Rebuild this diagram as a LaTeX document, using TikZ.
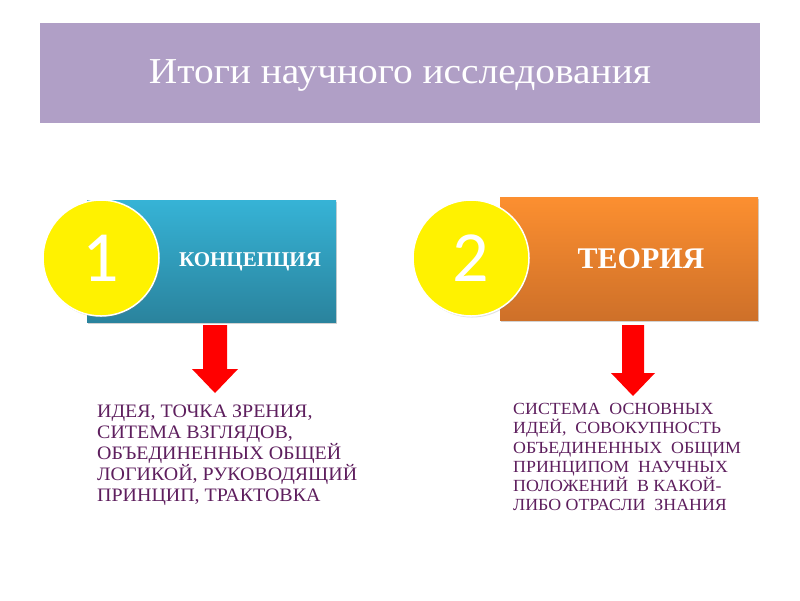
\documentclass[tikz,border=0pt]{standalone}
\usepackage{fontspec}
\setmainfont{Liberation Serif}
\newfontfamily\widefont[FakeStretch=1.05]{Liberation Serif}
\newfontfamily\titlefont[FakeStretch=1.08]{Liberation Serif}
\newfontfamily\numfont{Carlito}
\usetikzlibrary{shadows}
\definecolor{banner}{HTML}{B09FC6}
\definecolor{tealtop}{HTML}{36B3D6}
\definecolor{tealbot}{HTML}{2A839D}
\definecolor{orgtop}{HTML}{FC8F30}
\definecolor{orgbot}{HTML}{CE7029}
\definecolor{txtpurple}{HTML}{5E1F5E}
\definecolor{arrred}{HTML}{FF0000}
\tikzset{
  box/.style={rectangle, minimum height=122pt, inner sep=0pt, drop shadow={shadow xshift=1pt, shadow yshift=-2pt, opacity=0.35}},
  badge/.style={circle, fill=yellow, draw=white, line width=1.5pt, minimum size=116pt, inner sep=0pt, text=white, font=\numfont\fontsize{72}{72}\selectfont, drop shadow={shadow xshift=1pt, shadow yshift=-1.5pt, opacity=0.25}},
  boxlabel/.style={text=white},
  desc/.style={text=txtpurple, align=left, anchor=north west, inner sep=0pt},
  downarrow/.style={fill=arrred, draw=none}
}
\begin{document}
\begin{tikzpicture}[x=1pt,y=-1pt]
\useasboundingbox (0,0) rectangle (800,600);
\fill[white] (0,0) rectangle (800,600);
% banner
\node[fill=banner, minimum width=720pt, minimum height=100pt, inner sep=0pt, anchor=north west] (title) at (40,23) {};
\node[text=white, font=\titlefont\fontsize{36.5}{40}\selectfont] (titletext) at (400,75) {Итоги научного исследования};
% box 1
\node[box, top color=tealtop, bottom color=tealbot, minimum width=249pt, anchor=north west] (b1) at (87,200) {};
\node[boxlabel, font=\bfseries\fontsize{21}{24}\selectfont] (l1) at (250,262) {КОНЦЕПЦИЯ};
\node[badge] (c1) at (101,258) {1};
% box 2
\node[box, top color=orgtop, bottom color=orgbot, minimum width=258pt, minimum height=123pt, anchor=north west] (b2) at (500,197) {};
\node[boxlabel, font=\bfseries\fontsize{30}{32}\selectfont] (l2) at (641,259) {ТЕОРИЯ};
\node[badge] (c2) at (471,258) {2};
% arrows
\coordinate (a1) at (215,325);
\coordinate (a2) at (633,325);
\fill[downarrow] ([xshift=-12pt]a1) -- ++(0,44) -- (192,369) -- (215,393) -- (238,369) -- ([xshift=12pt]a1 |- 0,369) -- ([xshift=12pt]a1) -- cycle;
\fill[downarrow] ([xshift=-11pt]a2) -- ++(0,48) -- (611,373) -- (633,396) -- (655,373) -- ([xshift=11pt]a2 |- 0,373) -- ([xshift=11pt]a2) -- cycle;
% descriptions
\node[desc, font=\widefont\fontsize{19}{21}\selectfont] (d1) at (97,405) {ИДЕЯ, ТОЧКА ЗРЕНИЯ,\\СИТЕМА ВЗГЛЯДОВ,\\ОБЪЕДИНЕННЫХ ОБЩЕЙ\\ЛОГИКОЙ, РУКОВОДЯЩИЙ\\ПРИНЦИП, ТРАКТОВКА};
\node[desc, font=\widefont\fontsize{17}{19.3}\selectfont] (d2) at (513,403) {СИСТЕМА\ \ ОСНОВНЫХ\\ИДЕЙ,\ \ СОВОКУПНОСТЬ\\ОБЪЕДИНЕННЫХ\ \ ОБЩИМ\\ПРИНЦИПОМ\ \ НАУЧНЫХ\\ПОЛОЖЕНИЙ\ \ В КАКОЙ-\\ЛИБО ОТРАСЛИ\ \ ЗНАНИЯ};
\end{tikzpicture}
\end{document}
